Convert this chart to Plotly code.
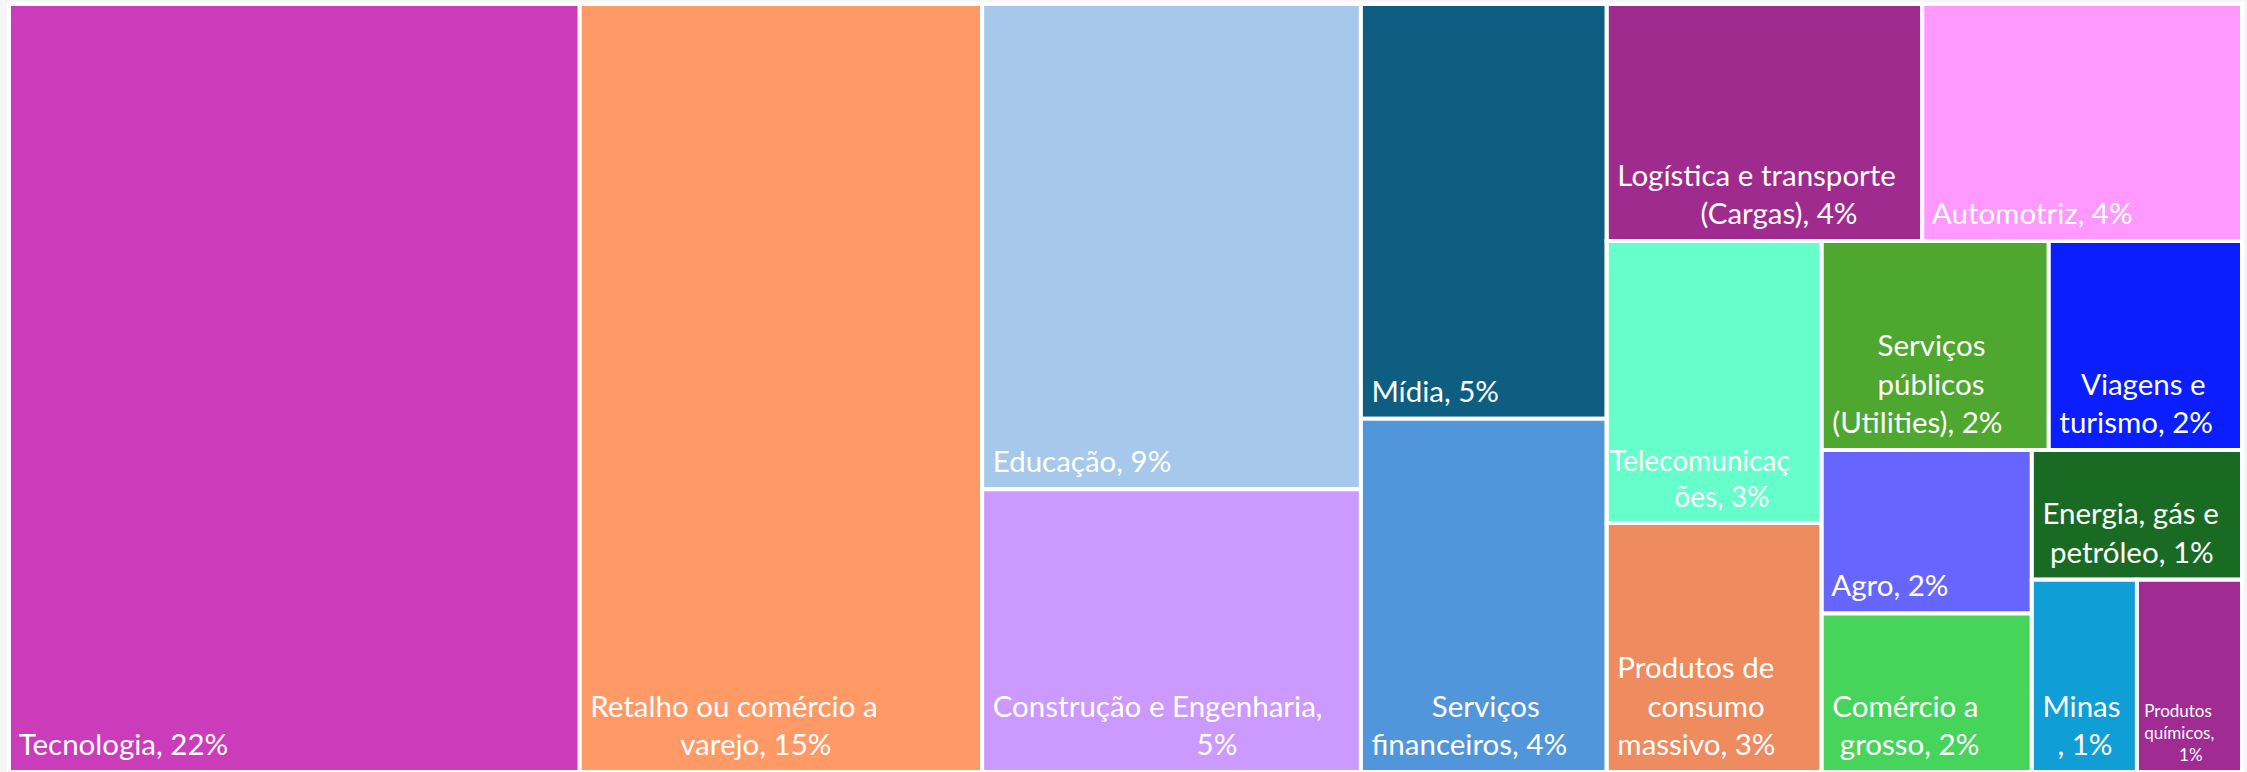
import plotly.graph_objects as go

# ---------------- data ----------------
sectors = [
    "Tecnologia",
    "Retalho ou comércio a varejo",
    "Educação",
    "Construção e Engenharia",
    "Mídia",
    "Serviços financeiros",
    "Logística e transporte (Cargas)",
    "Automotriz",
    "Telecomunicações",
    "Produtos de consumo massivo",
    "Serviços públicos (Utilities)",
    "Viagens e turismo",
    "Agro",
    "Comércio a grosso",
    "Energia, gás e petróleo",
    "Minas",
    "Produtos químicos",
]
share_values = [21.7, 15.3, 9.1, 5.3, 5.05, 4.3, 3.7, 3.75, 3.0, 2.65, 2.35, 2.0, 1.7, 1.65, 1.35, 1.0, 1.0]
pct_labels = [22, 15, 9, 5, 5, 4, 4, 4, 3, 3, 2, 2, 2, 2, 1, 1, 1]

# wrapped label lines as in the original ({p} = percentage)
label_lines = [
    ["Tecnologia, {p}%"],
    ["Retalho ou comércio a", "varejo, {p}%"],
    ["Educação, {p}%"],
    ["Construção e Engenharia,", "{p}%"],
    ["Mídia, {p}%"],
    ["Serviços", "financeiros, {p}%"],
    ["Logística e transporte", "(Cargas), {p}%"],
    ["Automotriz, {p}%"],
    ["Telecomunicaç", "ões, {p}%"],
    ["Produtos de", "consumo", "massivo, {p}%"],
    ["Serviços", "públicos", "(Utilities), {p}%"],
    ["Viagens e", "turismo, {p}%"],
    ["Agro, {p}%"],
    ["Comércio a", "grosso, {p}%"],
    ["Energia, gás e", "petróleo, {p}%"],
    ["Minas", ", {p}%"],
    ["Produtos", "químicos,", "{p}%"],
]

# ---------------- styling ----------------
colors = ["#CB3CBA", "#FF9966", "#A6C9EB", "#CC99FF", "#0D5E81", "#5196DA",
          "#A02B8F", "#FF99FF", "#66FFCC", "#EE8B5F", "#4EA72E", "#0A1EFF",
          "#6666FF", "#47D45A", "#196B24", "#0F9ED5", "#A02B93"]
font_sizes = [29.5] * 8 + [28] + [29.5] * 7 + [17]
# non-breaking-space indent per line (left inset + centring of wrapped lines)
line_indent = [
    [1], [1, 13], [1], [1, 28], [1], [9, 1], [1, 12], [1], [0, 9], [1, 5, 1],
    [7, 7, 1], [4, 1], [1], [1, 2], [1, 2], [1, 3], [1, 1, 9],
]

# layout grouping (invisible containers reproducing the original tiling)
tree = {
    "all": ["Tecnologia", "Retalho ou comércio a varejo", "g_ec", "g_ms", "g_r"],
    "g_ec": ["Educação", "Construção e Engenharia"],
    "g_ms": ["Mídia", "Serviços financeiros"],
    "g_r": ["g_top", "g_bot"],
    "g_top": ["Logística e transporte (Cargas)", "Automotriz"],
    "g_bot": ["g_tp", "g_rest"],
    "g_tp": ["Telecomunicações", "Produtos de consumo massivo"],
    "g_rest": ["g_sv", "g_low"],
    "g_sv": ["Serviços públicos (Utilities)", "Viagens e turismo"],
    "g_low": ["g_ac", "g_emq"],
    "g_ac": ["Agro", "Comércio a grosso"],
    "g_emq": ["Energia, gás e petróleo", "g_mq"],
    "g_mq": ["Minas", "Produtos químicos"],
}

NB = "\u00a0"
ids, labels, parents, vals, cols, texts, sizes = [], [], [], [], [], [], []


def add(node, parent):
    ids.append(node)
    parents.append(parent)
    if node in tree:
        labels.append(" ")
        vals.append(0)
        cols.append("white")
        texts.append("")
        sizes.append(20)
        for ch in tree[node]:
            add(ch, node)
    else:
        i = sectors.index(node)
        labels.append(node)
        vals.append(share_values[i])
        cols.append(colors[i])
        lines = [NB * n + ln.format(p=pct_labels[i]) for n, ln in zip(line_indent[i], label_lines[i])]
        # invisible trailing spacer gives the text a little more bottom inset
        lines[-1] += "<span style='font-size:%dpx'>%s</span>" % (round(font_sizes[i] * 2.2), NB)
        texts.append("<br>".join(lines))
        sizes.append(font_sizes[i])


add("all", "")

fig = go.Figure(go.Treemap(
    ids=ids, labels=labels, parents=parents, values=vals,
    branchvalues="remainder", sort=False,
    tiling=dict(packing="slice-dice", pad=0),
    marker=dict(colors=cols, line=dict(color="white", width=4),
                pad=dict(t=0, l=0, r=0, b=0), depthfade=False),
    text=texts, texttemplate="%{text}", textposition="bottom left",
    textfont=dict(family="Lato", size=sizes, color="white"),
    pathbar=dict(visible=False), hoverinfo="skip", root=dict(color="white"),
))

fig.update_layout(width=2247, height=772, margin=dict(l=9, r=5, t=4, b=0),
                  paper_bgcolor="#f6f6f6", showlegend=False)

fig.write_html("out.html", config={"displayModeBar": False},
               post_script="document.body.style.margin='0';document.body.style.overflow='hidden';document.body.style.background='#f6f6f6';")
